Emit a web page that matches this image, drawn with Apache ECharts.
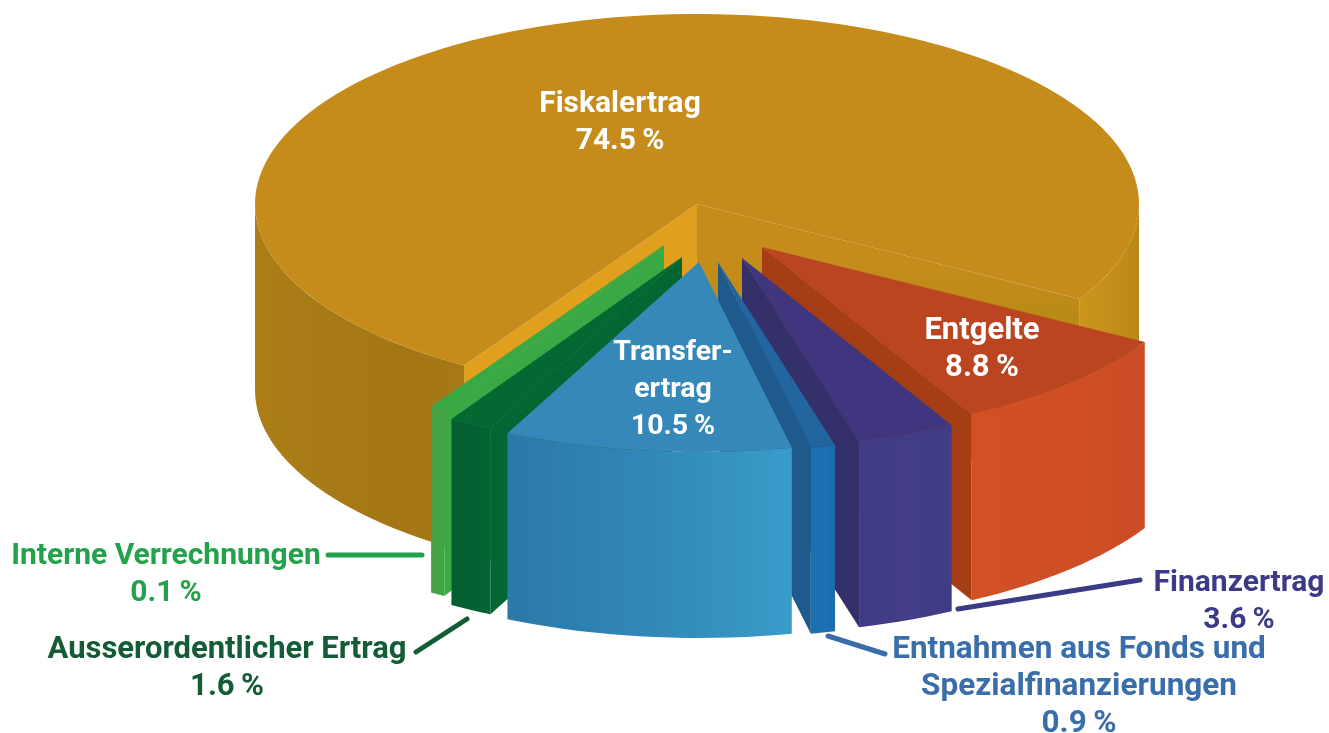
<!DOCTYPE html>
<html>
<head>
    <meta charset="utf-8">
    <title>Ertrag</title>
    <script src="https://cdn.jsdelivr.net/npm/echarts@6/dist/echarts.min.js"></script>
    <style>
        html, body { margin: 0; padding: 0; background: #fff; }
    </style>
</head>
<body>
    <div id="main" style="width: 1329px;height:733px;"></div>
    <script type="text/javascript">
// values, clockwise on screen, starting from the right edge of the gap
var sliceNames = ['Entgelte', 'Finanzertrag', 'Entnahmen aus Fonds und Spezialfinanzierungen', 'Transferertrag', 'Ausserordentlicher Ertrag', 'Interne Verrechnungen', 'Fiskalertrag'];
var sliceValues = [8.8, 3.6, 0.9, 10.5, 1.6, 0.1, 74.5];
var sliceLabels = [
    ['Entgelte', '8.8\u2009%'],
    ['Finanzertrag', '3.6\u2009%'],
    ['Entnahmen aus Fonds und', 'Spezialfinanzierungen', '0.9\u2009%'],
    ['Transfer-', 'ertrag', '10.5\u2009%'],
    ['Ausserordentlicher Ertrag', '1.6\u2009%'],
    ['Interne Verrechnungen', '0.1\u2009%'],
    ['Fiskalertrag', '74.5\u2009%']
];

// look of the pie
var cx = 697, cy = 204, rx = 442, ry = 190, depth = 186;
var startAngle = 30;
var minSweep = 2; // very small slices are still drawn this wide
var drawOrder = [6, 0, 1, 2, 5, 4, 3];
var explode = [[65, 43], [45, 54], [21, 58], [2, 58], [-15, 53], [-33, 41], [0, 0]];
var sliceStyles = [
    { top: '#bb4521', start: '#a63e15', end: '#a63e15', side: ['#d35025', '#cf4e24', '#cc4d26'] },
    { top: '#3f367f', start: '#33306a', end: '#33306a', side: ['#3f3b84', '#433d88', '#403c86'] },
    { top: '#22659f', start: '#1e5a8c', end: '#1e5a8c', side: ['#1c6fb0', '#1b72b2', '#1c6cab'] },
    { top: '#3688b8', start: '#2a6f9e', end: '#2a6f9e', side: ['#2c78a8', '#3188b8', '#389cc9'] },
    { top: '#046833', start: '#046632', end: '#046632', side: ['#045e30', '#046032', '#046433'] },
    { top: '#37a945', start: '#39a945', end: '#39a945', side: ['#4c9e47', '#43a545', '#3fa544'] },
    {
        top: '#c58c1b', start: '#e0a01e',
        end: { type: 'linear', x: 0, y: 262, x2: 0, y2: 325, global: true, colorStops: [
            { offset: 0, color: '#c58c1b' }, { offset: 1, color: '#b88a17' }
        ] },
        side: ['#ab7e18', '#a77a17', '#a37616', '#aa7c18', '#c9951a', '#c58e1a', '#ba8716'],
        sideOffsets: [0, 0.08, 0.2, 0.25, 0.93, 0.97, 1]
    }
];
var labelStyle = [
    { x: 982, y: 331, size: 31, color: '#fff' },
    { x: 1239, y: 583, size: 30, color: '#3b3a86' },
    { x: 1079, y: 650, size: 31.5, color: '#3a6eaa' },
    { x: 673, y: 353, size: 28.5, color: '#fff' },
    { x: 227, y: 650, size: 31, color: '#135c36' },
    { x: 166, y: 556, size: 30, color: '#22a24a' },
    { x: 620, y: 104, size: 30, color: '#fff' }
];
var leaders = [
    { from: [958, 609], to: [1140, 580], color: '#3b3a86' },
    { from: [828, 636], to: [885, 654], color: '#3a6eaa' },
    { from: [416, 652], to: [467, 619], color: '#135c36' },
    { from: [328, 555], to: [422, 555], color: '#22a24a' }
];
var lineHeight = 37;
var fontFamily = 'Roboto, "Noto Sans", sans-serif';

var total = sliceValues.reduce(function (a, b) { return a + b; }, 0);
var angles = [];
var cursor = startAngle;
sliceValues.forEach(function (v) {
    var sweep = v / total * 360;
    var end = cursor + sweep;
    // thin slices grow backwards, the neighbour drawn after them covers it
    angles.push([Math.min(cursor, end - minSweep), end]);
    cursor = end;
});

function rim(ox, oy, t, dz) {
    var a = t * Math.PI / 180;
    return [ox + rx * Math.cos(a), oy + ry * Math.sin(a) + (dz || 0)];
}

function arcPoints(ox, oy, t1, t2, dz) {
    var pts = [];
    var n = Math.max(2, Math.ceil((t2 - t1) / 2));
    for (var i = 0; i <= n; i++) {
        pts.push(rim(ox, oy, t1 + (t2 - t1) * i / n, dz));
    }
    return pts;
}

function radialFace(ox, oy, t, fill) {
    var p = rim(ox, oy, t);
    return {
        type: 'polygon',
        shape: { points: [[ox, oy], p, [p[0], p[1] + depth], [ox, oy + depth]] },
        style: { fill: fill }
    };
}

function renderSlice(params, api) {
    var idx = api.value(0);
    var t1 = angles[idx][0], t2 = angles[idx][1];
    var ox = cx + explode[idx][0], oy = cy + explode[idx][1];
    var st = sliceStyles[idx];
    var children = [];

    // the cut faces that turn towards the viewer
    if (Math.cos(t1 * Math.PI / 180) < 0) {
        children.push(radialFace(ox, oy, t1, st.start));
    }
    if (Math.cos(t2 * Math.PI / 180) > 0) {
        children.push(radialFace(ox, oy, t2, st.end));
    }

    // outer wall, only the front half of the ellipse can be seen
    var segments = [];
    [[0, 180], [360, 540]].forEach(function (r) {
        var a = Math.max(t1, r[0]), b = Math.min(t2, r[1]);
        if (b > a) { segments.push([a, b]); }
    });
    var xs = [];
    segments.forEach(function (s) {
        arcPoints(ox, oy, s[0], s[1]).forEach(function (p) { xs.push(p[0]); });
    });
    var x0 = Math.min.apply(null, xs), x1 = Math.max.apply(null, xs);
    var stops = st.side.map(function (c, i) {
        return { offset: st.sideOffsets ? st.sideOffsets[i] : i / (st.side.length - 1), color: c };
    });
    segments.forEach(function (s) {
        var upper = arcPoints(ox, oy, s[0], s[1]);
        var lower = arcPoints(ox, oy, s[0], s[1], depth).reverse();
        children.push({
            type: 'polygon',
            shape: { points: upper.concat(lower) },
            style: { fill: { type: 'linear', x: x0, y: 0, x2: x1, y2: 0, global: true, colorStops: stops } }
        });
    });

    // top face
    children.push({
        type: 'polygon',
        shape: { points: [[ox, oy]].concat(arcPoints(ox, oy, t1, t2)) },
        style: { fill: st.top }
    });

    return { type: 'group', children: children };
}

var graphics = [];
leaders.forEach(function (l) {
    graphics.push({
        type: 'line',
        z: 10,
        shape: { x1: l.from[0], y1: l.from[1], x2: l.to[0], y2: l.to[1] },
        style: { stroke: l.color, lineWidth: 5, lineCap: 'round' }
    });
});
sliceLabels.forEach(function (lines, i) {
    lines.forEach(function (s, k) {
        graphics.push({
            type: 'text',
            z: 10,
            x: labelStyle[i].x,
            y: labelStyle[i].y + k * lineHeight,
            style: {
                text: s,
                fill: labelStyle[i].color,
                font: 'bold ' + labelStyle[i].size + 'px ' + fontFamily,
                align: 'center',
                verticalAlign: 'middle'
            }
        });
    });
});

var chart = echarts.init(document.getElementById('main'));
chart.setOption({
    backgroundColor: '#fff',
    animation: false,
    tooltip: { show: false },
    series: [{
        type: 'custom',
        coordinateSystem: 'none',
        renderItem: renderSlice,
        data: drawOrder.map(function (i) { return { name: sliceNames[i], value: [i, sliceValues[i]] }; })
    }],
    graphic: { elements: graphics }
});
    </script>
</body>
</html>
